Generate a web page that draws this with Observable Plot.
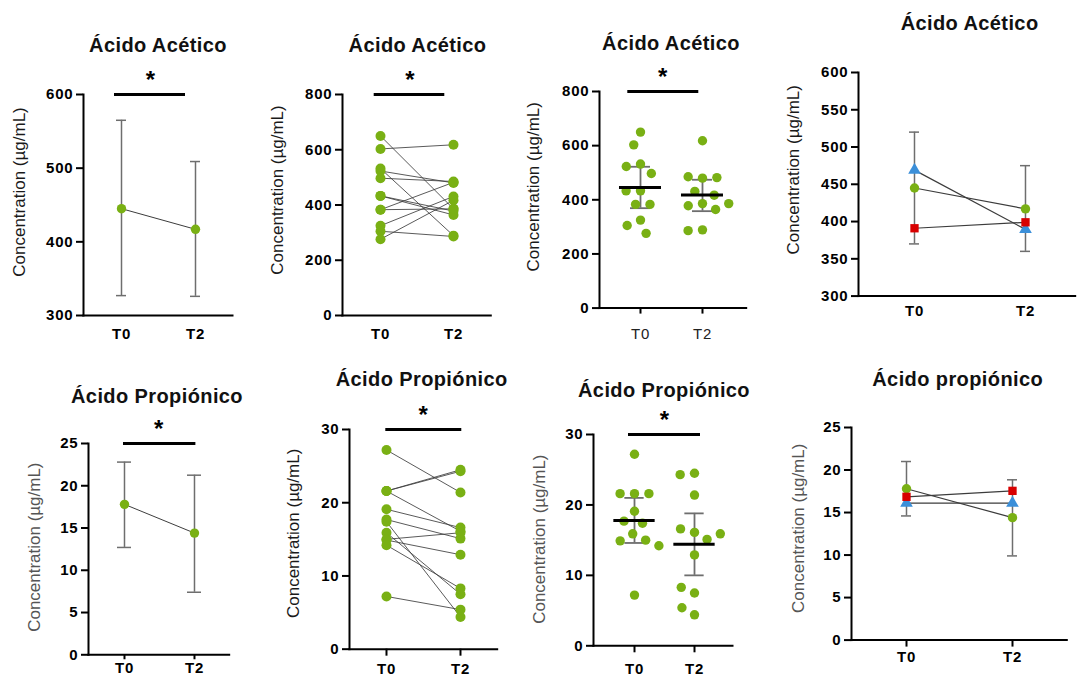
<!DOCTYPE html>
<html>
<head>
<meta charset="utf-8">
<script src="https://cdn.jsdelivr.net/npm/d3@7"></script>
<script src="https://cdn.jsdelivr.net/npm/@observablehq/plot@0.6"></script>
<style>
  body { margin: 0; background: #fff; }
  #root { position: relative; width: 1079px; height: 678px; overflow: hidden; background: #fff;
          font-family: "Liberation Sans", Arial, Helvetica, sans-serif; }
  .title { position: absolute; font-weight: bold; font-size: 20px; letter-spacing: 0.4px; color: #111;
           white-space: nowrap; transform: translateX(-50%); line-height: 1; }
  .panel { position: absolute; }
  .panel svg { overflow: visible; }
  g[aria-label="y-axis tick label"] text, g[aria-label="x-axis tick label"] text { letter-spacing: 0.8px; }
</style>
</head>
<body>
<div id="root"></div>
<script>
// ---------------- DATA ----------------
const times = ["T0", "T2"];
const yLabel = "Concentration (µg/mL)";

// Ácido acético, individual values (µg/mL), paired by subject index
const acetT0 = [650, 603, 532, 523, 497, 433, 433, 383, 383, 325, 305, 276];
const acetT2 = [386, 618, 289, 480, 485, 378, 364, 482, 386, 431, 286, 417];
// Ácido acético, mean ± SD
const acetMean = [445, 417];
const acetSDlo = [327, 326];
const acetSDhi = [565, 509];
// Ácido acético, mean with 95% CI (scatter panel)
const acetMeanCI = [445, 418];
const acetCIlo = [369, 358];
const acetCIhi = [522, 474];
// Ácido acético, groups (right panel)
const groups = ["Grupo 1", "Grupo 3", "Grupo 2"];
const acetG1 = [445, 417];
const acetG3 = [469, 389.5];
const acetG2 = [391, 399];
const acetGErrLo = [370, 360];
const acetGErrHi = [520, 475];

// Ácido propiónico, individual values (µg/mL), paired by subject index
const propT0 = [27.2, 21.6, 21.6, 21.6, 19.1, 17.7, 17.4, 15.9, 15.0, 14.9, 14.2, 7.2];
const propT2 = [21.4, 24.5, 24.3, 16.1, 16.6, 15.1, 4.4, 7.5, 15.9, 12.9, 8.3, 5.4];
// Ácido propiónico, mean ± SD
const propMean = [17.8, 14.4];
const propSDlo = [12.7, 7.4];
const propSDhi = [22.8, 21.25];
// Ácido propiónico, mean with 95% CI
const propMeanCI = [17.8, 14.4];
const propCIlo = [14.6, 10.0];
const propCIhi = [21.0, 18.8];
// Ácido propiónico, groups
const propG1 = [17.8, 14.4];
const propG3 = [16.1, 16.1];
const propG2 = [16.85, 17.55];
const propGErrLo = [14.6, 9.9];
const propGErrHi = [21.0, 18.85];

const significance = [{from: "T0", to: "T2", label: "*"}];

const acetTicks = [0, 200, 400, 600, 800];
const acetTicks1 = [300, 400, 500, 600];
const acetTicks4 = [300, 350, 400, 450, 500, 550, 600];
const propTicks25 = [0, 5, 10, 15, 20, 25];
const propTicks30 = [0, 10, 20, 30];

// ---------------- STYLE ----------------
const FONT = '"Liberation Sans", Arial, Helvetica, sans-serif';
const GREEN = "#79b014", RED = "#d80000", BLUE = "#3b8fd9", GREY = "#6e6e6e", LINE = "#3c3c3c";
const root = document.getElementById("root");

// ---------------- HELPERS ----------------
const summary = (m, lo, hi) => times.map((t, i) => ({t, mean: m[i], lo: lo[i], hi: hi[i]}));
const longRows = (a, b) => a.flatMap((v, i) => [{id: i, t: "T0", v}, {id: i, t: "T2", v: b[i]}]);
const groupRows = (g1, g3, g2) => [[groups[0], g1], [groups[1], g3], [groups[2], g2]]
  .flatMap(([g, arr]) => times.map((t, i) => ({g, t, v: arr[i]})));

const ML = 80, MT = 50, MB = 40, MR = 8;

function geom(c) {
  return {
    width: ML + (c.xEnd - c.axisX) + MR,
    height: MT + (c.yBottom - c.yTop) + MB,
    left: c.axisX - ML,
    top: c.yTop - MT
  };
}

function place(svg, g) {
  const div = document.createElement("div");
  div.className = "panel";
  div.style.left = g.left + "px";
  div.style.top = g.top + "px";
  div.style.width = g.width + "px";
  div.appendChild(svg);
  root.appendChild(div);
}

function errorMarks(stats, cap, sw = 1.5) {
  return [
    Plot.ruleX(stats, {x: "t", y1: "lo", y2: "hi", stroke: GREY, strokeWidth: sw}),
    Plot.ruleY(stats, {x1: "t", x2: "t", y: "lo", insetLeft: -cap, insetRight: -cap, stroke: GREY, strokeWidth: sw}),
    Plot.ruleY(stats, {x1: "t", x2: "t", y: "hi", insetLeft: -cap, insetRight: -cap, stroke: GREY, strokeWidth: sw})
  ];
}

function basePlot(c, extraMarks) {
  const g = geom(c);
  const yMax = c.domain[1];
  const marks = [
    Plot.axisY({ticks: c.ticks, tickSize: 7, tickPadding: 3, strokeWidth: 2, fontSize: 15,
                fontWeight: "bold", label: null, tickFormat: d => String(d)}),
    Plot.axisX({tickSize: c.xTickSize, tickPadding: c.xTickPadding, strokeWidth: 2, fontSize: 15,
                fontWeight: c.xWeight || "bold", label: null, fill: c.xColor || "#000"}),
    Plot.frame({anchor: "left", strokeWidth: 2}),
    Plot.frame({anchor: "bottom", strokeWidth: 2}),
    Plot.text([yLabel], {text: d => d, frameAnchor: "left", rotate: -90, dx: c.labelDx, dy: c.labelDy,
                         fontSize: 17, fill: c.labelColor || "#1a1a1a", textAnchor: "middle"})
  ];
  if (c.sig) {
    marks.push(
      Plot.ruleY(significance, {x1: "from", x2: "to", y: () => yMax, stroke: "#000", strokeWidth: 3,
                                insetLeft: c.sig.insetLeft, insetRight: c.sig.insetRight}),
      Plot.text(significance, {x: "from", y: () => yMax, text: "label", dx: c.sig.dx, dy: -14,
                               fontSize: 24, fontWeight: "bold", fill: "#000"})
    );
  }
  const svg = Plot.plot({
    width: g.width, height: g.height,
    marginLeft: ML, marginTop: MT, marginBottom: MB, marginRight: MR,
    style: {background: "transparent", overflow: "visible", fontFamily: FONT, color: "#000"},
    x: {type: "point", domain: times, padding: 0, insetLeft: c.t0 - c.axisX, insetRight: c.xEnd - c.t2},
    y: {domain: c.domain},
    symbol: {domain: groups, range: ["circle", "triangle", "square"]},
    color: {domain: groups, range: [GREEN, BLUE, RED]},
    marks: marks.concat(extraMarks || [])
  });
  place(svg, g);
}

function dotOverlay(c, values0, values1, stats) {
  const g = geom(c);
  const b = c.t2 - c.t0;                 // facet band width so that band centres hit T0 / T2
  const start = c.t0 - b / 2;
  const rows = longRows(values0, values1);
  const capInset = (b - 20) / 2, meanInset = (b - 42) / 2;
  const svg = Plot.plot({
    width: g.width, height: g.height,
    marginLeft: ML, marginTop: MT, marginBottom: MB, marginRight: MR,
    style: {background: "transparent", overflow: "visible", fontFamily: FONT},
    fx: {domain: times, padding: 0, insetLeft: start - c.axisX, insetRight: c.xEnd - (c.t2 + b / 2), axis: null},
    x: {type: "point", domain: ["centre"], padding: 0.5, axis: null},
    y: {domain: c.domain, axis: null},
    marks: [
      Plot.ruleX(stats, {fx: "t", x: () => "centre", y1: "lo", y2: "hi", stroke: GREY, strokeWidth: 1.8}),
      Plot.ruleY(stats, {fx: "t", y: "lo", insetLeft: capInset, insetRight: capInset, stroke: GREY, strokeWidth: 1.8}),
      Plot.ruleY(stats, {fx: "t", y: "hi", insetLeft: capInset, insetRight: capInset, stroke: GREY, strokeWidth: 1.8}),
      Plot.dotY(rows, Plot.dodgeX({anchor: "middle", padding: 5}, {fx: "t", y: "v", r: 4.7, fill: GREEN})),
      Plot.ruleY(stats, {fx: "t", y: "mean", insetLeft: meanInset, insetRight: meanInset, stroke: "#000", strokeWidth: 3})
    ]
  });
  place(svg, g);
}

function title(text, cx, top) {
  const d = document.createElement("div");
  d.className = "title";
  d.textContent = text;
  d.style.left = cx + "px";
  d.style.top = top + "px";
  root.appendChild(d);
}

// ---------------- PANELS ----------------
// 1: Ácido acético, mean ± SD
const p1 = {axisX: 83, yTop: 94, yBottom: 315, xEnd: 232, t0: 121, t2: 195, domain: [300, 600], ticks: acetTicks1,
            labelDx: -64, labelDy: -13, xTickSize: 0, xTickPadding: 12.5, sig: {insetLeft: -7, insetRight: 10, dx: 29}};
const s1 = summary(acetMean, acetSDlo, acetSDhi);
basePlot(p1, [
  ...errorMarks(s1, 5),
  Plot.line(s1, {x: "t", y: "mean", stroke: LINE, strokeWidth: 1}),
  Plot.dot(s1, {x: "t", y: "mean", r: 4.7, fill: GREEN})
]);

// 2: Ácido acético, paired individuals
const p2 = {axisX: 341.7, yTop: 94, yBottom: 315, xEnd: 490, t0: 379, t2: 452.7, domain: [0, 800], ticks: acetTicks,
            labelDx: -65, labelDy: -15, xTickSize: 0, xTickPadding: 12.5, sig: {insetLeft: -6.3, insetRight: 8.7, dx: 29.3}};
const r2 = longRows(acetT0, acetT2);
basePlot(p2, [
  Plot.line(r2, {x: "t", y: "v", z: "id", stroke: LINE, strokeWidth: 1, strokeOpacity: 0.85}),
  Plot.dot(r2, {x: "t", y: "v", r: 5, fill: GREEN})
]);

// 3: Ácido acético, scatter with mean and 95% CI
const p3 = {axisX: 599.3, yTop: 90.7, yBottom: 307.3, xEnd: 746, t0: 640, t2: 702, domain: [0, 800], ticks: acetTicks,
            labelDx: -66, labelDy: -13, xTickSize: 6, xTickPadding: 14.5, xWeight: "normal", xColor: "#222",
            sig: {insetLeft: -12.7, insetRight: 3.7, dx: 22.3}};
basePlot(p3, []);
dotOverlay(p3, acetT0, acetT2, summary(acetMeanCI, acetCIlo, acetCIhi));

// 4: Ácido acético, groups
const p4 = {axisX: 858.3, yTop: 71.7, yBottom: 295.3, xEnd: 1075, t0: 914.3, t2: 1025.7, domain: [300, 600], ticks: acetTicks4,
            labelDx: -65, labelDy: -14.5, xTickSize: 0, xTickPadding: 9.5};
const r4 = groupRows(acetG1, acetG3, acetG2);
basePlot(p4, [
  ...errorMarks(summary(acetG1, acetGErrLo, acetGErrHi), 5),
  Plot.line(r4, {x: "t", y: "v", z: "g", stroke: LINE, strokeWidth: 1.2}),
  Plot.dot(r4, {x: "t", y: "v", symbol: "g", fill: "g", r: 4.7})
]);

// 5: Ácido propiónico, mean ± SD
const p5 = {axisX: 88.3, yTop: 442.7, yBottom: 654, xEnd: 229, t0: 123.7, t2: 194.3, domain: [0, 25], ticks: propTicks25,
            labelDx: -54, labelDy: -2, labelColor: "#555", xTickSize: 5, xTickPadding: 2.5,
            sig: {insetLeft: -1, insetRight: -1.4, dx: 34.3}};
const s5 = summary(propMean, propSDlo, propSDhi);
basePlot(p5, [
  ...errorMarks(s5, 7),
  Plot.line(s5, {x: "t", y: "mean", stroke: LINE, strokeWidth: 1}),
  Plot.dot(s5, {x: "t", y: "mean", r: 4.7, fill: GREEN})
]);

// 6: Ácido propiónico, paired individuals
const p6 = {axisX: 349.3, yTop: 429, yBottom: 648.7, xEnd: 497, t0: 386.7, t2: 460.7, domain: [0, 30], ticks: propTicks30,
            labelDx: -56, labelDy: -6, xTickSize: 7, xTickPadding: 7, sig: {insetLeft: -0.7, insetRight: -1.3, dx: 36.6}};
const r6 = longRows(propT0, propT2);
basePlot(p6, [
  Plot.line(r6, {x: "t", y: "v", z: "id", stroke: LINE, strokeWidth: 1, strokeOpacity: 0.85}),
  Plot.dot(r6, {x: "t", y: "v", r: 5, fill: GREEN})
]);

// 7: Ácido propiónico, scatter with mean and 95% CI
const p7 = {axisX: 592.7, yTop: 434, yBottom: 645.3, xEnd: 731.7, t0: 633.3, t2: 694, domain: [0, 30], ticks: propTicks30,
            labelDx: -54, labelDy: -1, labelColor: "#555", xTickSize: 7, xTickPadding: 10.5,
            sig: {insetLeft: -6, insetRight: -6, dx: 30}};
basePlot(p7, []);
dotOverlay(p7, propT0, propT2, summary(propMeanCI, propCIlo, propCIhi));

// 8: Ácido propiónico, groups
const p8 = {axisX: 850.7, yTop: 426.7, yBottom: 639.3, xEnd: 1066, t0: 905.7, t2: 1012.3, domain: [0, 25], ticks: propTicks25,
            labelDx: -53, labelDy: -5.5, labelColor: "#555", xTickSize: 7, xTickPadding: 4.5};
const r8 = groupRows(propG1, propG3, propG2);
basePlot(p8, [
  ...errorMarks(summary(propG1, propGErrLo, propGErrHi), 5),
  Plot.line(r8, {x: "t", y: "v", z: "g", stroke: LINE, strokeWidth: 1.2}),
  Plot.dot(r8, {x: "t", y: "v", symbol: "g", fill: "g", r: 4.7})
]);

// ---------------- TITLES ----------------
title("Ácido Acético", 158, 35);
title("Ácido Acético", 417.5, 35);
title("Ácido Acético", 671, 33);
title("Ácido Acético", 969.6, 13);
title("Ácido Propiónico", 157, 386.3);
title("Ácido Propiónico", 421.7, 369);
title("Ácido Propiónico", 664, 379.7);
title("Ácido propiónico", 957.7, 369);
</script>
</body>
</html>
